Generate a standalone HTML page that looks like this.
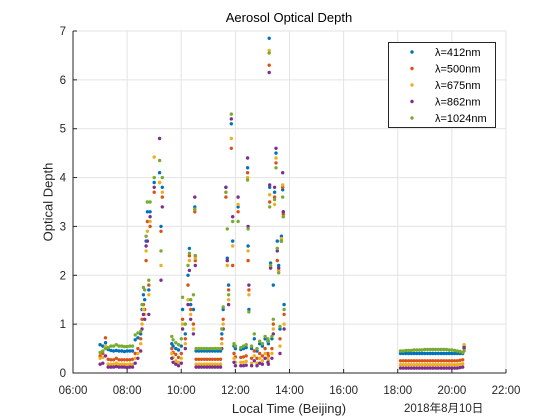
<!DOCTYPE html>
<html><head><meta charset="utf-8"><style>
body{margin:0;background:#fff;}
svg{display:block;font-family:"Liberation Sans","Noto Sans CJK SC",sans-serif;}
</style></head><body>
<svg id="chart" width="560" height="420" viewBox="0 0 560 420"></svg>
<script>
const times=[7.0,7.1,7.2,7.3,7.4,7.5,7.6,7.7,7.8,7.9,8.0,8.1,8.2,
8.3,8.4,8.5,8.55,8.6,8.65,8.7,8.75,8.8,8.85,9.0,9.2,9.25,9.3,
9.65,9.7,9.8,9.9,10.0,
10.05,10.15,10.25,10.3,10.35,10.45,10.5,10.52,
10.55,10.65,10.75,10.85,10.95,11.05,11.15,11.25,11.35,11.45,
11.5,11.55,11.65,11.7,11.75,11.85,11.9,11.95,
12.0,12.1,12.2,12.3,12.4,12.45,12.47,12.5,
12.6,12.7,12.8,12.9,13.0,13.1,13.2,13.22,
13.25,13.27,13.3,13.35,13.4,13.45,13.5,13.55,13.6,13.65,13.7,13.75,13.77,13.8,
18.1,18.2,18.3,18.4,18.5,18.6,18.7,18.8,18.9,19.0,19.1,19.2,19.3,19.4,19.5,19.6,19.7,19.8,19.9,20.0,20.1,20.2,20.3,20.4,20.45];
const aod412=[.58,.55,.62,.48,.46,.45,.46,.45,.45,.44,.45,.45,.45,
.68,.72,.80,1.3,1.6,1.5,2.7,3.3,1.7,3.3,3.9,4.1,3.0,3.8,
.60,.55,.50,.47,.55,
1.3,.80,2.0,2.55,1.4,1.3,3.4,2.4,
.45,.45,.45,.45,.45,.45,.45,.45,.45,.45,
.80,1.3,3.8,2.35,1.8,5.1,2.7,.55,
.50,3.4,.48,.50,.52,4.2,2.6,1.3,
.50,.70,.45,.60,.55,.70,.65,.60,
6.85,3.8,2.25,.70,1.8,3.7,4.5,2.7,2.2,.90,2.8,3.75,3.3,1.4,
.40,.40,.40,.40,.40,.40,.40,.40,.40,.40,.40,.40,.40,.40,.40,.40,.40,.40,.40,.40,.40,.40,.40,.40,.55];
const aod500=[.35,.40,.72,.28,.27,.27,.30,.27,.27,.27,.27,.27,.28,
.40,.50,.70,1.1,1.4,1.3,2.3,3.1,1.8,3.0,3.7,3.9,2.9,3.6,
.50,.42,.38,.32,.40,
1.1,.70,1.8,2.4,1.3,1.0,3.3,2.3,
.28,.28,.28,.28,.28,.28,.28,.28,.28,.28,
.70,1.1,3.6,2.3,1.7,4.6,2.2,.40,
.33,3.3,.32,.33,.35,4.1,2.3,1.7,
.30,.45,.30,.40,.35,.50,.40,.35,
6.3,3.5,2.15,.50,1.0,3.6,4.3,2.3,2.1,.70,2.7,3.8,3.25,1.2,
.25,.25,.25,.25,.25,.25,.25,.25,.25,.25,.25,.25,.25,.25,.25,.25,.25,.25,.25,.25,.25,.25,.26,.27,.50];
const aod675=[.30,.32,.55,.18,.18,.18,.20,.18,.18,.18,.17,.18,.18,
.30,.40,.60,1.0,1.3,1.2,2.5,2.9,1.6,3.1,4.42,3.9,2.2,3.7,
.40,.32,.25,.22,.30,
1.0,.60,1.5,2.3,1.2,.9,3.35,2.35,
.18,.18,.18,.18,.18,.18,.18,.18,.18,.18,
.60,1.0,3.7,2.2,1.5,4.8,2.6,.30,
.22,3.45,.22,.22,.24,4.0,2.5,1.6,
.20,.35,.20,.30,.25,.40,.30,.25,
6.6,3.65,2.2,.40,.9,3.45,4.4,2.55,2.1,.55,2.75,3.85,3.2,1.0,
.17,.17,.17,.17,.17,.17,.17,.17,.17,.17,.17,.17,.17,.17,.17,.17,.17,.17,.17,.17,.17,.17,.18,.19,.58];
const aod862=[.18,.20,.35,.12,.12,.12,.13,.12,.12,.12,.11,.12,.12,
.20,.30,.45,.9,1.2,1.1,2.6,2.7,1.2,3.2,3.8,4.8,1.9,3.4,
.30,.22,.18,.15,.20,
.9,.50,1.4,2.1,1.1,.8,3.6,2.2,
.12,.12,.12,.12,.12,.12,.12,.12,.12,.12,
.50,.9,3.8,2.3,1.4,5.2,3.2,.22,
.15,3.6,.15,.15,.16,4.4,3.0,1.8,
.15,.25,.15,.20,.18,.30,.22,.18,
6.15,3.85,2.15,.30,.8,3.8,4.6,2.5,2.15,.40,2.7,4.1,3.3,.9,
.10,.10,.10,.10,.10,.10,.10,.10,.10,.10,.10,.10,.10,.10,.10,.10,.10,.10,.10,.10,.10,.10,.11,.12,.52];
const aod1024=[.42,.45,.50,.52,.55,.55,.58,.55,.55,.54,.54,.55,.55,
.78,.82,.85,1.4,1.75,1.7,2.8,3.5,1.9,3.5,4.0,4.35,2.5,4.0,
.75,.68,.62,.58,.70,
1.55,1.0,2.2,2.45,1.5,1.6,3.35,2.4,
.50,.50,.50,.50,.50,.50,.50,.50,.50,.50,
.90,1.35,3.7,2.95,1.6,5.3,3.1,.60,
.55,3.1,.52,.55,.58,3.95,2.95,1.25,
.55,.80,.50,.65,.60,.75,.70,.65,
6.55,3.4,2.2,.75,1.1,3.55,4.2,2.55,2.05,.95,2.7,3.6,3.2,1.3,
.45,.45,.46,.46,.46,.47,.47,.47,.47,.48,.48,.48,.48,.48,.48,.48,.48,.48,.47,.47,.46,.45,.44,.42,.45];
const seriesNames=["λ=412nm","λ=500nm","λ=675nm","λ=862nm","λ=1024nm"];
const xTicks=[6,8,10,12,14,16,18,20,22];
const xTickLabels=["06:00","08:00","10:00","12:00","14:00","16:00","18:00","20:00","22:00"];
const yTicks=[0,1,2,3,4,5,6,7];

const series=[aod412,aod500,aod675,aod862,aod1024];
const colors=["#0072BD","#D95319","#EDB120","#7E2F8E","#77AC30"];
const L=73,R=506,T=31,B=373;
const xs=t=>L+(t-6)/(22-6)*(R-L);
const ys=v=>B-v/7*(B-T);
const svg=document.getElementById('chart');
const NS="http://www.w3.org/2000/svg";
function mk(tag,attrs,parent){const e=document.createElementNS(NS,tag);for(const k in attrs)e.setAttribute(k,attrs[k]);(parent||svg).appendChild(e);return e;}

const grid=mk('g',{});


xTicks.forEach(t=>{const l=mk('line',{x1:xs(t),x2:xs(t),y1:T,y2:B,stroke:'#e3e3e3','stroke-width':1},grid);

});
yTicks.forEach(v=>{const l=mk('line',{x1:L,x2:R,y1:ys(v),y2:ys(v),stroke:'#e3e3e3','stroke-width':1},grid);

});

series.forEach((arr,si)=>{
  const g=mk('g',{fill:colors[si]});
  
  
  times.forEach((t,i)=>{
    if(arr[i]===undefined)return;
    const c=mk('circle',{cx:xs(t).toFixed(1),cy:ys(arr[i]).toFixed(1),r:1.7},g);
    
    
  });
});

const ax=mk('g',{stroke:'#262626','stroke-width':1,fill:'none'});


mk('line',{x1:L,x2:L,y1:T,y2:B+0.5},ax);
mk('line',{x1:L,x2:R,y1:B,y2:B},ax);
xTicks.forEach(t=>mk('line',{x1:xs(t),x2:xs(t),y1:B,y2:B-4},ax));
yTicks.forEach(v=>mk('line',{x1:L,x2:L+4,y1:ys(v),y2:ys(v)},ax));

xTicks.forEach((t,i)=>{const e=mk('text',{x:xs(t),y:394,'text-anchor':'middle','font-size':11.5,fill:'#262626'});
e.textContent=xTickLabels[i];

});
yTicks.forEach(v=>{const e=mk('text',{x:L-7,y:ys(v)+4,'text-anchor':'end','font-size':11.5,fill:'#262626'});
e.textContent=v;

});

const lg=mk('g',{});


mk('rect',{x:388.5,y:42.5,width:107,height:85,fill:'#fff',stroke:'#262626','stroke-width':1},lg);
seriesNames.forEach((n,i)=>{
  const y=52+i*16.5;
  const c=mk('circle',{cx:412,cy:y,r:1.7,fill:colors[i]},lg);
  
  
  const t=mk('text',{x:435,y:y+4,'font-size':11,fill:'#000'},lg);
  t.textContent=n;
  
  
});
</script>
<svg width="0" height="0" style="position:absolute"></svg>
<div style="position:absolute;left:0;top:0;width:560px;height:420px;pointer-events:none;font-family:'Liberation Sans','Noto Sans CJK SC',sans-serif;">
<div style="position:absolute;left:0;width:578px;top:10px;text-align:center;font-size:13px;color:#000;">Aerosol Optical Depth</div>
<div style="position:absolute;left:48px;top:202px;transform:translate(-50%,-50%) rotate(-90deg);font-size:13px;color:#262626;white-space:nowrap;">Optical Depth</div>
<div style="position:absolute;left:0;width:578px;top:401px;text-align:center;font-size:13px;color:#262626;">Local Time (Beijing)</div>
<div style="position:absolute;left:404px;top:400px;font-size:11.5px;color:#262626;white-space:nowrap;">2018年8月10日</div>
</div>
</body></html>
